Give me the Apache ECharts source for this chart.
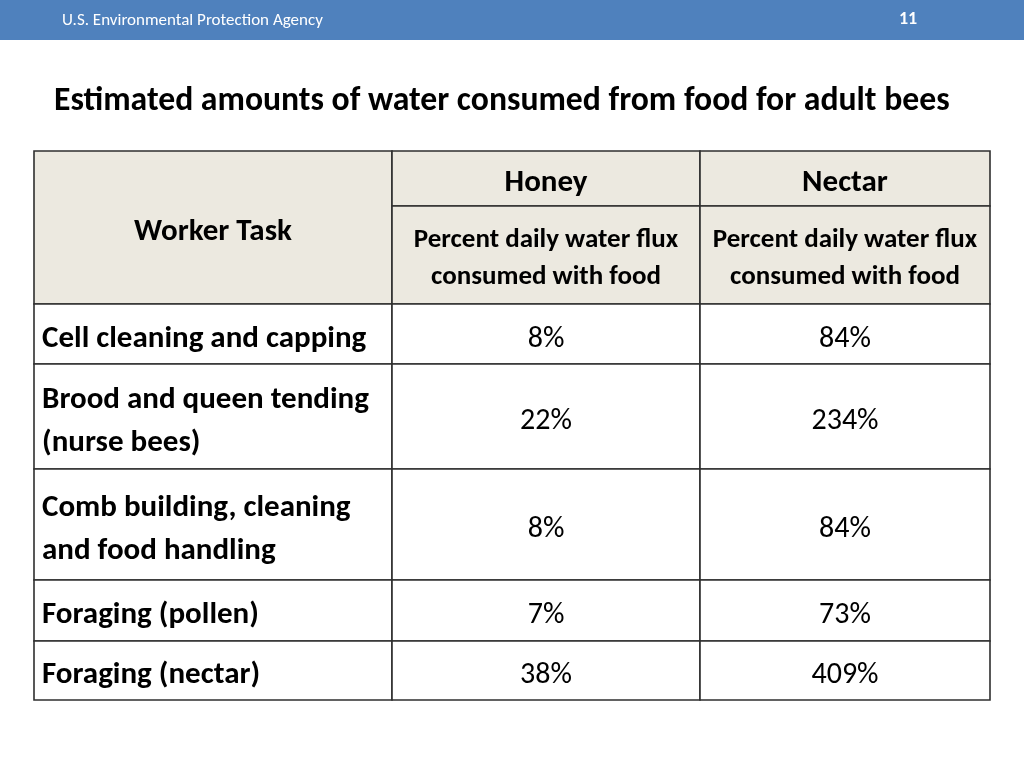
<!DOCTYPE html>
<html>
<head>
<meta charset="utf-8">
<script src="https://cdn.jsdelivr.net/npm/echarts@6/dist/echarts.min.js"></script>
<style>
html,body{margin:0;padding:0;background:#fff;}
#chart{width:1024px;height:768px;}
</style>
</head>
<body>
<div id="chart"></div>
<script>
// ---- data ----
const agencyName = "U.S. Environmental Protection Agency";
const pageNumber = "11";
const chartTitle = "Estimated amounts of water consumed from food for adult bees";
const firstColumnHeader = "Worker Task";
const foodTypes = ["Honey", "Nectar"];
const measureLabel = "Percent daily water flux\nconsumed with food";
const workerTasks = [
  "Cell cleaning and capping",
  "Brood and queen tending\n(nurse bees)",
  "Comb building, cleaning\nand food handling",
  "Foraging (pollen)",
  "Foraging (nectar)"
];
const honeyPct = [8, 22, 8, 7, 38];
const nectarPct = [84, 234, 84, 73, 409];

// ---- layout ----
const FONT = "Carlito, Lato, sans-serif";
const colEdges = [34, 392, 700, 990];
const headEdges = [151, 206, 304];
const rowEdges = [304, 364, 469, 580, 641, 700];
const headFill = "#ECE9E0";
const lineColor = "#2f2f2f";

const cells = [];
cells.push({x0: colEdges[0], x1: colEdges[1], y0: headEdges[0], y1: headEdges[2], fill: headFill,
  text: firstColumnHeader, align: "center", bold: true, size: 31, lh: 37, dy: 5});
foodTypes.forEach((f, i) => {
  cells.push({x0: colEdges[i+1], x1: colEdges[i+2], y0: headEdges[0], y1: headEdges[1], fill: headFill,
    text: f, align: "center", bold: true, size: 31, lh: 37, dy: 5});
  cells.push({x0: colEdges[i+1], x1: colEdges[i+2], y0: headEdges[1], y1: headEdges[2], fill: headFill,
    text: measureLabel, align: "center", bold: true, size: 27, lh: 37, dy: 4});
});
workerTasks.forEach((t, r) => {
  const y0 = rowEdges[r], y1 = rowEdges[r+1];
  cells.push({x0: colEdges[0], x1: colEdges[1], y0, y1, fill: "#fff", text: t, align: "left", bold: true, size: 31, lh: 43, dy: 5});
  cells.push({x0: colEdges[1], x1: colEdges[2], y0, y1, fill: "#fff", text: honeyPct[r] + "%", align: "center", bold: false, size: 30, lh: 43, dy: 5});
  cells.push({x0: colEdges[2], x1: colEdges[3], y0, y1, fill: "#fff", text: nectarPct[r] + "%", align: "center", bold: false, size: 30, lh: 43, dy: 5});
});

const chart = echarts.init(document.getElementById("chart"));
chart.setOption({
  animation: false,
  backgroundColor: "#fff",
  grid: {left: 0, right: 0, top: 0, bottom: 0},
  xAxis: {type: "value", min: 0, max: 1024, show: false},
  yAxis: {type: "value", min: 0, max: 768, inverse: true, show: false},
  graphic: [
    {type: "rect", left: 0, top: 0, shape: {width: 1024, height: 40}, style: {fill: "#4F81BD"}, z: 0},
    {type: "text", x: 62, y: 21, style: {text: agencyName, fill: "#fff", font: "17px " + FONT, verticalAlign: "middle"}},
    {type: "text", x: 908, y: 19, style: {text: pageNumber, fill: "#fff", font: "bold 18px " + FONT, align: "center", verticalAlign: "middle"}},
    {type: "text", x: 54, y: 102, style: {text: chartTitle, fill: "#000", font: "bold 33.7px " + FONT, verticalAlign: "middle"}}
  ],
  series: [{
    type: "custom",
    coordinateSystem: "cartesian2d",
    data: cells.map((c, i) => [c.x0, c.y0, i]),
    renderItem: function (params, api) {
      const c = cells[api.value(2)];
      const p0 = api.coord([c.x0, c.y0]);
      const p1 = api.coord([c.x1, c.y1]);
      const tx = c.align === "left" ? p0[0] + 8 : (p0[0] + p1[0]) / 2;
      const ty = (p0[1] + p1[1]) / 2 + c.dy;
      return {
        type: "group",
        children: [
          {type: "rect", shape: {x: p0[0], y: p0[1], width: p1[0] - p0[0], height: p1[1] - p0[1]},
            style: {fill: c.fill, stroke: lineColor, lineWidth: 1.6}},
          {type: "text", x: tx, y: ty,
            style: {text: c.text, fill: "#000", align: c.align, verticalAlign: "middle",
              font: (c.bold ? "bold " : "") + c.size + "px " + FONT, lineHeight: c.lh}}
        ]
      };
    }
  }]
});
</script>
</body>
</html>
